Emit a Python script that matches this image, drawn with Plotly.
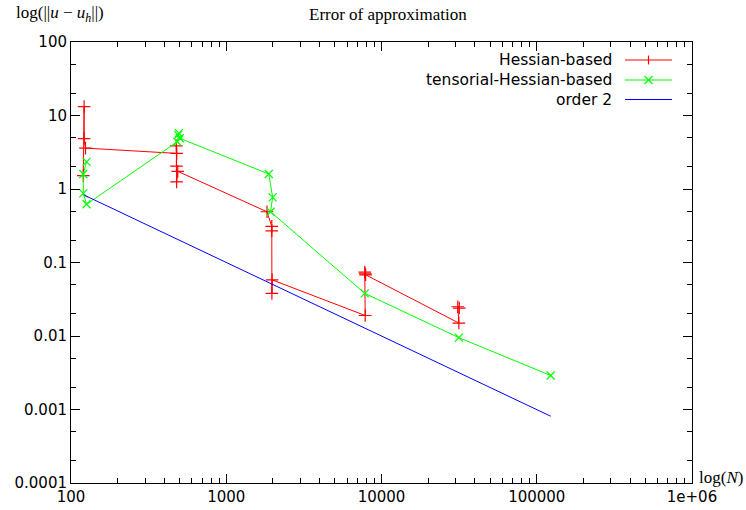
import plotly.graph_objects as go

# ---- data ----
hess_N = [120, 121.5, 121.5, 124, 480, 477, 478, 479, 487, 1830, 1965, 1965, 1968, 1975, 7850, 7800, 7870, 7900, 31500, 31000, 31700]
hess_err = [1.52, 13.2, 4.86, 3.6, 3.05, 3.86, 2.05, 1.25, 1.74, 0.49, 0.31, 0.27, 0.038, 0.058, 0.019, 0.074, 0.070, 0.068, 0.015, 0.025, 0.024]

tens_N = [126, 120, 120, 126, 484, 495, 490, 502, 1880, 1990, 1930, 7800, 31500, 123000]
tens_err = [2.34, 1.6, 0.87, 0.62, 4.4, 5.75, 5.45, 4.9, 1.6, 0.77, 0.49, 0.038, 0.0095, 0.0029]

order2_N = [121, 123000]
order2_err = [0.83, 0.00081]

x_tickvals = [100, 1000, 10000, 100000, 1000000]
x_ticktext = ["100", "1000", "10000", "100000", "1e+06"]
y_tickvals = [100, 10, 1, 0.1, 0.01, 0.001, 0.0001]
y_ticktext = ["100", "10", "1", "0.1", "0.01", "0.001", "0.0001"]

series_names = ["Hessian-based", "tensorial-Hessian-based", "order 2"]
RED, GREEN, BLUE = "#ff0000", "#00ff00", "#0000ff"

# ---- geometry ----
W, H = 746, 510
L, R, T, B = 71, 692, 42, 483  # plot area in pixels

def px(xp):
    return (xp - L) / (R - L)

def py(yp):
    return (B - yp) / (B - T)

fig = go.Figure()
fig.add_trace(go.Scatter(x=hess_N, y=hess_err, mode="lines+markers",
                         line=dict(color=RED, width=1),
                         marker=dict(symbol="cross-thin", size=9, line=dict(color=RED, width=1.2)),
                         name=series_names[0], showlegend=False))
fig.add_trace(go.Scatter(x=tens_N, y=tens_err, mode="lines+markers",
                         line=dict(color=GREEN, width=1),
                         marker=dict(symbol="x-thin", size=8, line=dict(color=GREEN, width=1.2)),
                         name=series_names[1], showlegend=False))
fig.add_trace(go.Scatter(x=order2_N, y=order2_err, mode="lines",
                         line=dict(color=BLUE, width=1),
                         name=series_names[2], showlegend=False))

x_minor = [k * 10 ** e for e in range(2, 6) for k in range(2, 10)]
y_minor = [k * 10.0 ** e for e in range(-4, 2) for k in (2, 5)]

axis_common = dict(type="log", showline=True, linecolor="black", linewidth=1,
                   mirror="ticks", ticks="inside", ticklen=9, tickcolor="black",
                   showgrid=False, zeroline=False, automargin=False,
                   tickfont=dict(family="DejaVu Sans", size=15, color="black"))

fig.update_xaxes(range=[2, 6], tickvals=x_tickvals, ticktext=x_ticktext,
                 minor=dict(ticks="inside", ticklen=5, tickcolor="black", tickvals=x_minor),
                 **axis_common)
fig.update_yaxes(range=[-4, 2], tickvals=y_tickvals, ticktext=y_ticktext,
                 minor=dict(ticks="inside", ticklen=5, tickcolor="black", tickvals=y_minor),
                 **axis_common)

serif = dict(family="Liberation Serif", size=17, color="black")
annotations = [
    dict(text="Error of approximation", x=px(388), y=py(14), xref="paper", yref="paper",
         xanchor="center", yanchor="middle", showarrow=False, font=serif),
    dict(text="log(||<i>u</i> − <i>u</i><sub><i>h</i></sub>||)", x=px(14), y=py(14),
         xref="paper", yref="paper", xanchor="left", yanchor="middle", showarrow=False, font=serif),
    dict(text="log(<i>N</i>)", x=px(697), y=py(477), xref="paper", yref="paper",
         xanchor="left", yanchor="middle", showarrow=False, font=serif),
]

shapes = []
legend_rows = [(60, RED, "plus"), (80, GREEN, "x"), (99.5, BLUE, None)]
for name, (yrow, col, mk) in zip(series_names, legend_rows):
    annotations.append(dict(text=name, x=px(614), y=py(yrow), xref="paper", yref="paper",
                            xanchor="right", yanchor="middle", showarrow=False,
                            font=dict(family="DejaVu Sans", size=15.5, color="black")))
    shapes.append(dict(type="line", xref="paper", yref="paper", x0=px(625), x1=px(672),
                       y0=py(yrow), y1=py(yrow), line=dict(color=col, width=1)))
    if mk == "plus":
        shapes.append(dict(type="line", xref="paper", yref="paper", x0=px(648.5), x1=px(648.5),
                           y0=py(yrow - 4.5), y1=py(yrow + 4.5), line=dict(color=col, width=1.2)))
    elif mk == "x":
        shapes.append(dict(type="line", xref="paper", yref="paper", x0=px(644.5), x1=px(652.5),
                           y0=py(yrow - 4), y1=py(yrow + 4), line=dict(color=col, width=1.2)))
        shapes.append(dict(type="line", xref="paper", yref="paper", x0=px(644.5), x1=px(652.5),
                           y0=py(yrow + 4), y1=py(yrow - 4), line=dict(color=col, width=1.2)))

fig.update_layout(width=W, height=H, margin=dict(l=L, r=W - R, t=T, b=H - B, pad=0),
                  plot_bgcolor="white", paper_bgcolor="white",
                  annotations=annotations, shapes=shapes, showlegend=False)

fig.write_html("out.html", config={"displayModeBar": False},
               post_script="document.body.style.margin='0';document.documentElement.style.overflow='hidden';")
